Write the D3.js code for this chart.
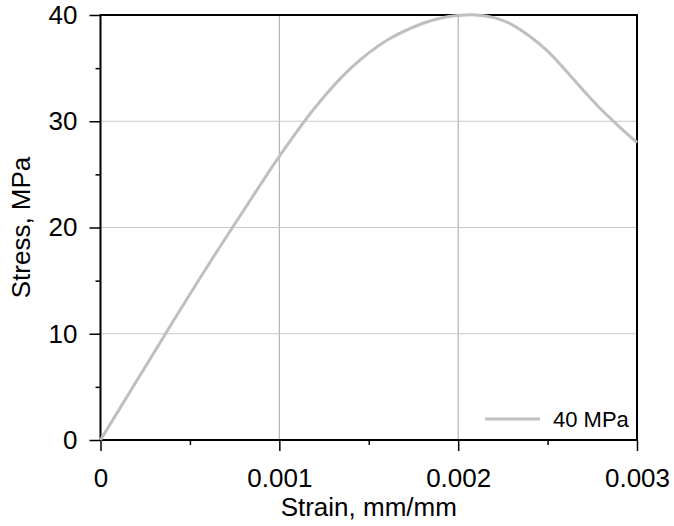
<!DOCTYPE html>
<html>
<head>
<meta charset="utf-8">
<script src="https://cdn.jsdelivr.net/npm/d3@7"></script>
<style>
  body { margin: 0; background: #fff; }
  svg { display: block; font-family: "Liberation Sans", Arial, sans-serif; }
</style>
</head>
<body>
<svg></svg>
<script>
const WIDTH = 674;
const HEIGHT = 526;

const strain = [0, 0.0002, 0.0004, 0.0006, 0.0008, 0.001, 0.0012, 0.0014, 0.0016, 0.0018, 0.0019, 0.002, 0.0021,
                0.0022, 0.0023, 0.0024, 0.0025, 0.0026, 0.0027, 0.0028, 0.0029, 0.003];
const stress = [0, 5.5, 11.0, 16.4, 21.6, 26.7, 31.3, 35.0, 37.6, 39.2, 39.7, 39.95, 40,
                39.75, 39.1, 38.0, 36.6, 34.8, 32.9, 31.1, 29.5, 28.0];
const seriesName = "40 MPa";

const xTicks = [0, 0.001, 0.002, 0.003];
const xMinor = [0.0005, 0.0015, 0.0025];
const yTicks = [0, 10, 20, 30, 40];
const yMinor = [5, 15, 25, 35];

const margin = {left: 100.5, right: 37, top: 15, bottom: 86};

var svg = d3.select("svg")
    .attr("width", WIDTH)
    .attr("height", HEIGHT);

var x = d3.scaleLinear().domain([0, 0.003]).range([margin.left, WIDTH - margin.right]);
var y = d3.scaleLinear().domain([0, 40]).range([HEIGHT - margin.bottom, margin.top]);

// grid
svg.append("g")
    .selectAll("line")
    .data(xTicks.slice(1, -1))
    .join("line")
    .attr("x1", d => x(d)).attr("x2", d => x(d))
    .attr("y1", y(0)).attr("y2", y(40))
    .attr("stroke", "#a6a6a6")
    .attr("stroke-width", 1);

svg.append("g")
    .selectAll("line")
    .data(yTicks.slice(1, -1))
    .join("line")
    .attr("x1", x(0)).attr("x2", x(0.003))
    .attr("y1", d => y(d)).attr("y2", d => y(d))
    .attr("stroke", "#c8c8c8")
    .attr("stroke-width", 1);

// axes
svg.append("g")
    .attr("transform", `translate(0,${y(0)})`)
    .call(d3.axisBottom(x).tickValues(xTicks).tickSize(11).tickPadding(18)
        .tickFormat(d => d === 0 ? "0" : d3.format(".3f")(d)));

svg.append("g")
    .attr("transform", `translate(0,${y(0)})`)
    .call(d3.axisBottom(x).tickValues(xMinor).tickSize(5).tickFormat(""));

svg.append("g")
    .attr("transform", `translate(${x(0)},0)`)
    .call(d3.axisLeft(y).tickValues(yTicks).tickSize(11).tickPadding(12));

svg.append("g")
    .attr("transform", `translate(${x(0)},0)`)
    .call(d3.axisLeft(y).tickValues(yMinor).tickSize(5).tickFormat(""));

svg.selectAll(".domain").remove();
svg.selectAll(".tick line").attr("stroke", "#000").attr("stroke-width", 1.5);
svg.selectAll(".tick text")
    .style("font-size", "26px")
    .style("font-family", "Liberation Sans, Arial, sans-serif")
    .attr("fill", "#000");

// frame
svg.append("rect")
    .attr("x", x(0)).attr("y", y(40))
    .attr("width", x(0.003) - x(0))
    .attr("height", y(0) - y(40))
    .attr("fill", "none")
    .attr("stroke", "#000")
    .attr("stroke-width", 2);

// curve
var pts = strain.map((s, i) => [s, stress[i]]);
var line = d3.line()
    .x(d => x(d[0]))
    .y(d => y(d[1]))
    .curve(d3.curveCatmullRom.alpha(0.5));

svg.append("path")
    .datum(pts)
    .attr("d", line)
    .attr("fill", "none")
    .attr("stroke", "#bfbfbf")
    .attr("stroke-width", 3);

// legend
svg.append("line")
    .attr("x1", 485).attr("x2", 540)
    .attr("y1", 419).attr("y2", 419)
    .attr("stroke", "#bfbfbf")
    .attr("stroke-width", 3);

svg.append("text")
    .attr("x", 553).attr("y", 427)
    .style("font-size", "22px")
    .text(seriesName);

// axis titles
svg.append("text")
    .attr("x", (x(0) + x(0.003)) / 2)
    .attr("y", 516)
    .attr("text-anchor", "middle")
    .style("font-size", "26px")
    .text("Strain, mm/mm");

svg.append("text")
    .attr("transform", `translate(30,${(y(0) + y(40)) / 2}) rotate(-90)`)
    .attr("text-anchor", "middle")
    .style("font-size", "26px")
    .text("Stress, MPa");
</script>
</body>
</html>
